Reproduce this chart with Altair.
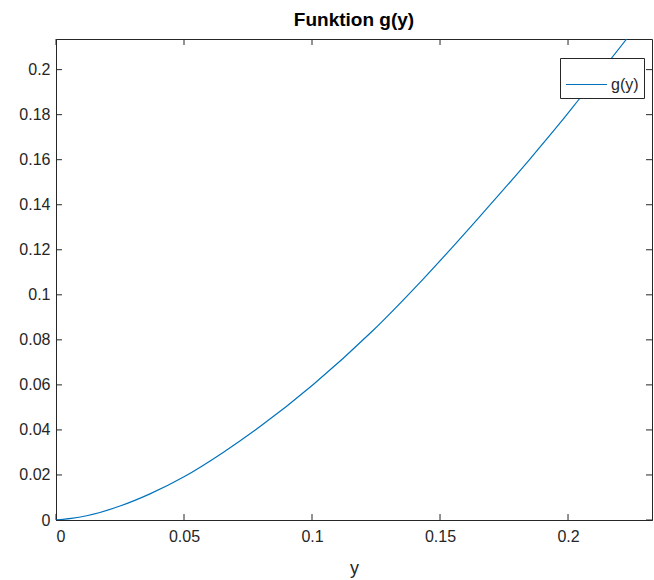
import altair as alt
import pandas as pd

# values
y_vals = [0, 0.006, 0.012, 0.025, 0.0367, 0.05, 0.065, 0.0797, 0.1005, 0.1235,
          0.1435, 0.165, 0.1852, 0.1969, 0.204, 0.2229]
g_vals = [0, 0.0007, 0.0019, 0.0062, 0.0116, 0.0192, 0.0298, 0.0415, 0.0602, 0.0838,
          0.1071, 0.1341, 0.1604, 0.1763, 0.1864, 0.2136]
x_ticks = [0, 0.05, 0.1, 0.15, 0.2]
y_ticks = [0, 0.02, 0.04, 0.06, 0.08, 0.1, 0.12, 0.14, 0.16, 0.18, 0.2]
x_domain = [0, 0.2328]
y_domain = [0, 0.2136]
series_name = "g(y)"

W, H = 596, 481
FONT = "Liberation Sans"
AX = "#262626"
BLUE = "#0072BD"

df = pd.DataFrame({"y": y_vals, "g": g_vals, "series": series_name})
xt = pd.DataFrame({"t": x_ticks})
yt = pd.DataFrame({"t": y_ticks})

xs = alt.Scale(domain=x_domain, nice=False, zero=False)
ys = alt.Scale(domain=y_domain, nice=False, zero=False)

line = alt.Chart(df).mark_line(strokeWidth=1.2, clip=True, interpolate="monotone").encode(
    x=alt.X("y:Q", scale=xs, title="y",
            axis=alt.Axis(values=x_ticks, format="~g", ticks=False, tickSize=0,
                          labelPadding=8, grid=False, titlePadding=15)),
    y=alt.Y("g:Q", scale=ys, title=None,
            axis=alt.Axis(values=y_ticks, format="~g", ticks=False, tickSize=0,
                          labelPadding=6, grid=False)),
    color=alt.Color("series:N", scale=alt.Scale(domain=[series_name], range=[BLUE]),
                    legend=alt.Legend(title=None, orient="none", legendX=504, legendY=19,
                                      symbolType="stroke", symbolSize=1681,
                                      symbolStrokeWidth=1.2, labelOffset=3,
                                      padding=5, strokeColor=AX, fillColor="white",
                                      labelFontSize=16, labelFont=FONT, labelColor=AX)),
)

tick_len = 6
xb = alt.Chart(xt).mark_rule(color=AX, strokeWidth=1).encode(
    x=alt.X("t:Q", scale=xs), y=alt.value(H), y2=alt.value(H - tick_len))
xtop = alt.Chart(xt).mark_rule(color=AX, strokeWidth=1).encode(
    x=alt.X("t:Q", scale=xs), y=alt.value(0), y2=alt.value(tick_len))
yl = alt.Chart(yt).mark_rule(color=AX, strokeWidth=1).encode(
    y=alt.Y("t:Q", scale=ys), x=alt.value(0), x2=alt.value(tick_len))
yr = alt.Chart(yt).mark_rule(color=AX, strokeWidth=1).encode(
    y=alt.Y("t:Q", scale=ys), x=alt.value(W), x2=alt.value(W - tick_len))

chart = alt.layer(xb, xtop, yl, yr, line).properties(
    width=W, height=H,
    title=alt.Title("Funktion g(y)", font=FONT, fontSize=19, fontWeight="bold",
                    color="black", anchor="middle", offset=9),
    autosize=alt.AutoSizeParams(type="none"),
    padding={"left": 56, "top": 39, "right": 2, "bottom": 60},
).configure_view(
    stroke=AX, strokeWidth=1
).configure_axis(
    labelFont=FONT, labelFontSize=16, labelColor=AX, domainColor=AX,
    titleFont=FONT, titleFontSize=18, titleColor=AX, titleFontWeight="normal",
)

chart.save("out.html", embed_options={"renderer": "svg", "actions": False})
